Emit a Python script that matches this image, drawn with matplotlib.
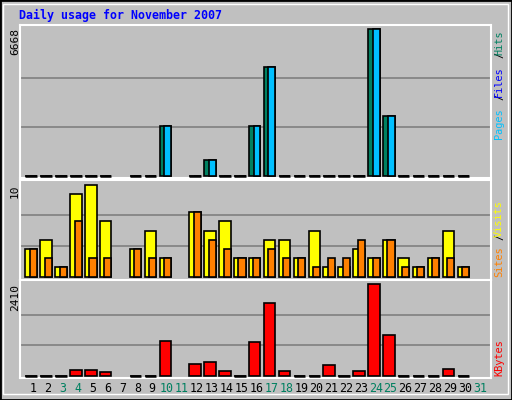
import matplotlib
matplotlib.use("Agg")
import matplotlib.pyplot as plt
import numpy as np

days = list(range(1, 32))
weekend = [3, 4, 10, 11, 17, 18, 24, 25, 31]
no_data = [7, 11, 31]

hits = [0, 0, 0, 0, 0, 0, 0, 0, 0, 2290, 0, 0, 726, 0, 0, 2290, 4944, 0, 0, 0,
        0, 0, 0, 6668, 2722, 0, 0, 0, 0, 0, 0]
files = hits
visits = [3, 4, 1, 9, 10, 6, 0, 3, 5, 2, 0, 7, 5, 6, 2, 2, 4, 4, 2, 5,
          1, 1, 3, 2, 4, 2, 1, 2, 5, 1, 0]
sites = [3, 2, 1, 6, 2, 2, 0, 3, 2, 2, 0, 7, 4, 3, 2, 2, 3, 2, 2, 1,
         2, 2, 4, 2, 4, 1, 1, 2, 2, 1, 0]
kbytes = [0, 0, 0, 140, 140, 90, 0, 0, 0, 907, 0, 300, 353, 116, 0, 880, 1909, 116, 0, 0,
          274, 0, 116, 2410, 1065, 0, 0, 0, 169, 0, 0]

W, H = 512, 400
BG = "#C0C0C0"
fig = plt.figure(figsize=(W / 100, H / 100), dpi=100, facecolor=BG)

def px_axes(x0, y0, x1, y1):
    return fig.add_axes([x0 / W, 1 - y1 / H, (x1 - x0) / W, (y1 - y0) / H])

# outer frame
fig.patches.append(plt.Rectangle((0, 0), 1, 1, transform=fig.transFigure,
                                 fill=False, ec="black", lw=2))
fig.patches.append(plt.Rectangle((3 / W, 6 / H), 1 - 7 / W, 1 - 10 / H, transform=fig.transFigure,
                                 fill=False, ec="white", lw=1))

xl = (0.128, 31.74)
xs = np.array(days) - 0.12
bw = 0.77
mask = np.array([d not in no_data for d in days])

def setup(ax, ylim, vmax):
    ax.set_facecolor(BG)
    ax.set_xlim(*xl)
    ax.set_ylim(*ylim)
    ax.set_xticks([])
    ax.set_yticks([])
    for s in ax.spines.values():
        s.set_color("white")
        s.set_linewidth(1.5)
    for f in (1 / 3, 2 / 3):
        ax.axhline(vmax * f, color="#808080", lw=1.2, zorder=0)

mono = "DejaVu Sans Mono"

# top panel: hits / files / pages
ax1 = px_axes(20, 25, 491, 178)
setup(ax1, (-91, 6850), 6668)
h = np.array(hits); f = np.array(files)
ax1.bar(xs[mask], h[mask], width=bw, color="#008060", ec="black", lw=1.2, zorder=2)
ax1.bar((xs + bw * 0.2)[mask], f[mask], width=bw * 0.6, color="#00C0FF", ec="black", lw=1.2, zorder=3)
ax1.bar(xs[mask & (h == 0)], 0, width=bw, color="black", ec="black", lw=1.8, zorder=4)

# middle panel: visits / sites
ax2 = px_axes(20, 180, 491, 280)
setup(ax2, (-0.36, 10.49), 10)
v = np.array(visits); s = np.array(sites)
ax2.bar(xs[mask], v[mask], width=bw, color="#FFFF00", ec="black", lw=1.2, zorder=2)
ax2.bar((xs + bw * 0.19)[mask], s[mask], width=bw * 0.62, color="#FF8000", ec="black", lw=1.2, zorder=3)

# bottom panel: kbytes
ax3 = px_axes(20, 280, 491, 378)
setup(ax3, (-61, 2523), 2410)
k = np.array(kbytes)
ax3.bar(xs[mask], k[mask], width=bw, color="#FF0000", ec="black", lw=1.2, zorder=2)
ax3.bar(xs[mask & (k == 0)], 0, width=bw, color="black", ec="black", lw=1.8, zorder=4)

# day labels
for d in days:
    fig.text((33 + (d - 1) * 14.9) / W, 1 - 389 / H, str(d), ha="center", va="center",
             fontsize=8.4, family=mono, color="#008060" if d in weekend else "black")

# title and max labels
fig.text(19 / W, 1 - 15 / H, "Daily usage for November 2007", ha="left", va="center",
         fontsize=8.4, family=mono, weight="bold", color="#0000FF")
for y, t in [(28, "6668"), (185, "10"), (284, "2410")]:
    fig.text(15 / W, 1 - y / H, t, rotation=90, ha="center", va="top", fontsize=8, family=mono)

# right side legends
def rlabel(y, t, c):
    fig.text(499 / W, 1 - y / H, t, rotation=90, ha="center", va="bottom",
             fontsize=7.4, family=mono, color=c)

rlabel(139, "Pages", "#00C0FF"); rlabel(100, "/", "black")
rlabel(97, "Files", "#0000FF"); rlabel(58, "/", "black")
rlabel(55, "Hits", "#008060")
rlabel(277, "Sites", "#FF8000"); rlabel(240, "/", "black")
rlabel(237, "Visits", "#FFFF00")
rlabel(376, "KBytes", "#FF0000")

fig.savefig("out.png", dpi=100, facecolor=BG)
